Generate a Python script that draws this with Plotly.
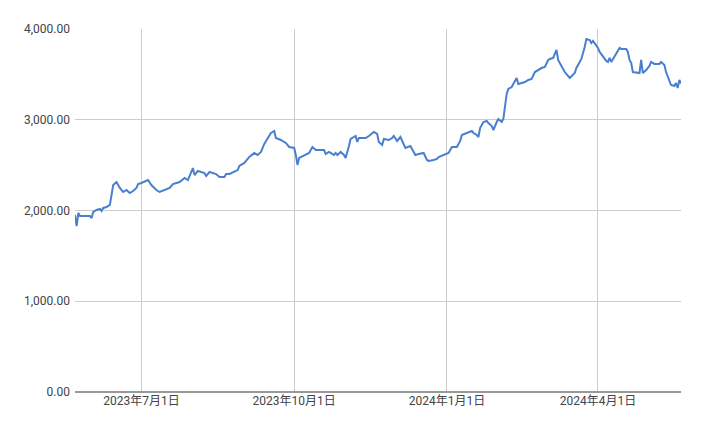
import pandas as pd
import plotly.graph_objects as go

start_date = "2023-05-22"
day_offsets = [0,1,2,3,9,10,11,13,15,16,17,19,21,23,25,27,29,31,33,35,37,38,40,44,46,49,51,57,59,63,66,68,71,72,74,78,79,81,85,87,90,91,93,98,99,102,105,108,110,112,114,116,118,120,121,124,127,129,132,133,134,135,139,141,143,145,147,150,151,153,156,157,158,160,162,163,165,166,169,170,171,175,177,180,182,183,185,186,189,191,192,194,196,198,199,202,203,205,207,210,212,213,216,218,219,222,224,225,227,230,232,233,236,239,240,242,243,244,246,248,249,251,252,253,254,255,257,258,260,261,263,265,266,267,269,271,273,275,277,279,281,283,285,286,288,290,291,293,295,298,301,302,305,307,308,310,311,312,313,315,316,318,320,321,322,323,325,326,328,329,332,333,334,335,336,340,341,342,344,346,347,349,352,353,355,356,358,359,361,362,363,364,365]
values = [1951,1829,1973,1940,1940,1917,1984,2006,2017,1995,2028,2039,2061,2281,2314,2248,2204,2226,2193,2215,2248,2292,2303,2336,2281,2226,2204,2248,2292,2314,2358,2336,2468,2391,2435,2413,2380,2424,2402,2369,2369,2402,2402,2446,2491,2524,2590,2634,2612,2645,2733,2788,2854,2876,2799,2777,2744,2700,2689,2612,2502,2579,2612,2634,2700,2667,2667,2667,2623,2645,2612,2634,2612,2645,2612,2579,2711,2788,2821,2755,2799,2799,2821,2865,2843,2755,2722,2788,2777,2799,2821,2766,2810,2722,2689,2711,2678,2612,2623,2634,2557,2546,2557,2568,2590,2612,2623,2634,2700,2700,2766,2832,2854,2876,2854,2832,2810,2909,2975,2986,2964,2931,2887,2942,2975,3008,2975,3008,3284,3339,3361,3427,3460,3394,3405,3416,3438,3449,3526,3548,3570,3582,3659,3670,3681,3769,3659,3593,3526,3460,3515,3570,3670,3802,3890,3879,3846,3868,3846,3791,3747,3692,3648,3637,3681,3637,3703,3736,3791,3780,3780,3747,3659,3626,3526,3515,3659,3515,3548,3593,3637,3615,3615,3637,3604,3526,3427,3383,3372,3405,3350,3438,3400]

tick_dates = ["2023-07-01", "2023-10-01", "2024-01-01", "2024-04-01"]
tick_labels = ["2023年7月1日", "2023年10月1日", "2024年1月1日", "2024年4月1日"]
y_ticks = [0, 1000, 2000, 3000, 4000]

dates = pd.Timestamp(start_date) + pd.to_timedelta(day_offsets, unit="D")

fig = go.Figure(go.Scatter(x=dates, y=values, mode="lines",
                           line=dict(color="#4a7fcf", width=2), hoverinfo="skip"))
fig.update_layout(
    width=703, height=435, margin=dict(l=67, r=30, t=21, b=51, autoexpand=False),
    plot_bgcolor="white", paper_bgcolor="white", showlegend=False,
    font=dict(family="Roboto, Noto Sans CJK JP, sans-serif", size=12, color="#444"),
)
fig.update_xaxes(range=[dates[0], dates[-1]], tickvals=tick_dates, ticktext=tick_labels,
                 showgrid=True, gridcolor="#cccccc", showline=False, zeroline=False, ticks="",
                 automargin=False)
fig.update_yaxes(range=[0, 4000], tickvals=y_ticks, tickformat=",.2f",
                 showgrid=True, gridcolor="#cccccc", zeroline=True, zerolinecolor="#999",
                 showline=False, ticks="", ticklabelstandoff=4, automargin=False)
fig.write_html("out.html")
